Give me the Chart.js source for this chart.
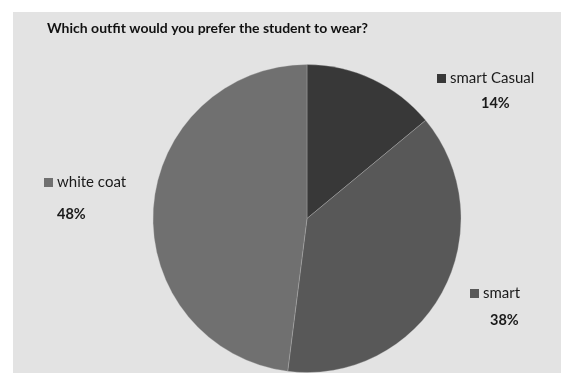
<!DOCTYPE html>
<html>
<head>
<meta charset="utf-8">
<script src="https://cdn.jsdelivr.net/npm/chart.js@4/dist/chart.umd.min.js"></script>
<style>
  html, body { margin: 0; padding: 0; background: #ffffff; }
  #wrap { position: relative; width: 561px; height: 373px; }
</style>
</head>
<body>
<div id="wrap"><canvas id="chart" width="561" height="373"></canvas></div>
<script>
// Survey answers
const titleText = 'Which outfit would you prefer the student to wear?';
const categories = ['smart Casual', 'smart', 'white coat'];
const percentages = [14, 38, 48];
const sliceColors = ['#383838', '#585858', '#707070'];

// Where each category's label block sits (left edge of marker, centre of name line)
const labelSpots = [
  { x: 437, y: 78, pctX: 481, pctY: 103 },
  { x: 470, y: 293, pctX: 490, pctY: 320 },
  { x: 44, y: 182, pctX: 57, pctY: 214 }
];

const FONT = 'Lato, "Liberation Sans", sans-serif';

const panelBackground = {
  id: 'panelBackground',
  beforeDraw(chart) {
    const ctx = chart.ctx;
    ctx.save();
    ctx.fillStyle = '#ffffff';
    ctx.fillRect(0, 0, chart.width, chart.height);
    ctx.fillStyle = '#e3e3e3';
    ctx.fillRect(13, 12, chart.width - 13, chart.height - 12);
    ctx.restore();
  }
};

const textLayer = {
  id: 'textLayer',
  afterDraw(chart) {
    const ctx = chart.ctx;
    ctx.save();
    ctx.textBaseline = 'middle';
    ctx.textAlign = 'left';
    ctx.fillStyle = '#111111';
    ctx.font = 'bold 14px ' + FONT;
    ctx.fillText(titleText, 47, 28);

    const ds = chart.data.datasets[0];
    chart.data.labels.forEach((name, i) => {
      const spot = labelSpots[i];
      ctx.fillStyle = ds.backgroundColor[i];
      ctx.fillRect(spot.x, spot.y - 4, 9, 9);
      ctx.fillStyle = '#1a1a1a';
      ctx.font = '15px ' + FONT;
      ctx.fillText(name, spot.x + 13, spot.y);
      ctx.font = 'bold 14.5px ' + FONT;
      ctx.fillText(ds.data[i] + '%', spot.pctX, spot.pctY);
    });
    ctx.restore();
  }
};

new Chart(document.getElementById('chart'), {
  type: 'pie',
  data: {
    labels: categories,
    datasets: [{
      data: percentages,
      backgroundColor: sliceColors,
      borderColor: 'rgba(200,200,200,0.3)',
      borderWidth: 1
    }]
  },
  options: {
    responsive: false,
    animation: false,
    layout: { padding: { top: 64, bottom: 0, left: 53, right: 0 } },
    plugins: {
      legend: { display: false },
      title: { display: false },
      tooltip: { enabled: false }
    }
  },
  plugins: [panelBackground, textLayer]
});
</script>
</body>
</html>
